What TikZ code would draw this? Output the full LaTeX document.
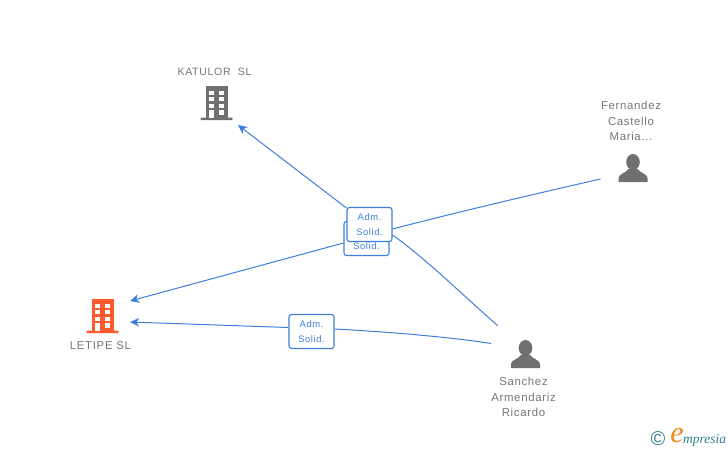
\documentclass[tikz,border=0pt]{standalone}
\usepackage{fontspec}
\setmainfont{Liberation Sans}
\newfontfamily\spaced[LetterSpace=6]{Liberation Sans}
\newfontfamily\logofont{Liberation Serif}
\usetikzlibrary{arrows.meta}
\definecolor{linkblue}{HTML}{3F7FDC}
\definecolor{labelgrey}{HTML}{777777}
\definecolor{icongrey}{HTML}{707070}
\definecolor{orangeicon}{HTML}{FF5A2E}
\definecolor{logoteal}{HTML}{2F7F8F}
\definecolor{logoorange}{HTML}{F08A1C}
\tikzset{
  x=1pt,y=-1pt,
  conn/.style={draw=linkblue,line width=1pt,-{Stealth[length=9pt,width=8.5pt,inset=2.5pt]}},
  plainconn/.style={draw=linkblue,line width=1pt},
  rolebox/.style={draw=linkblue,fill=white,line width=1.1pt,rounded corners=2.5pt,minimum width=45pt,minimum height=34pt,inner sep=0pt,align=center,text=linkblue,font=\spaced\fontsize{9.4}{15}\selectfont},
  caption/.style={text=labelgrey,align=center,inner sep=0pt,font=\spaced\fontsize{11.4}{15.4}\selectfont},
  pics/building/.style={code={
    \fill[#1] (-11,-34) rectangle (11,-2);
    \fill[#1,rounded corners=0.6pt] (-16,-2.5) rectangle (16,0);
    \foreach \yy in {-29.5,-23,-16.5}{
      \fill[white] (-7.5,\yy) rectangle (-2.5,\yy+4);
      \fill[white] (2.5,\yy) rectangle (7.5,\yy+4);
    }
    \fill[white] (-7.5,-10) rectangle (-2.5,-2);
    \fill[white] (2.5,-10) rectangle (7.5,-5.5);
  }},
  pics/person/.style={code={
    \fill[icongrey] (0,-20) ellipse (6.8 and 8);
    \fill[icongrey] (-14.5,0) -- (-14.5,-4) .. controls (-14.5,-8) and (-7,-9) .. (-4.5,-13) -- (4.5,-13) .. controls (7,-9) and (14.5,-8) .. (14.5,-4) -- (14.5,0) -- cycle;
  }}
}
\begin{document}
\begin{tikzpicture}
\useasboundingbox (0,0) rectangle (728,450);
\fill[white] (0,0) rectangle (728,450);

\pic at (216.5,120) {building=icongrey};
\pic at (102.5,333) {building=orangeicon};
\pic at (633,182) {person};
\pic at (525.5,368) {person};

\node[caption,font=\spaced\fontsize{10.6}{15}\selectfont] (katulor) at (214.5,72) {KATULOR\ \ SL};
\node[caption] (letipe) at (100.5,345.5) {LETIPE SL};
\node[caption] (fernandez) at (631,121) {Fernandez\\Castello\\Maria...};
\node[caption] (sanchez) at (523.5,397) {Sanchez\\Armendariz\\Ricardo};

\coordinate (katulorEnd) at (238,125);
\coordinate (letipeUpper) at (130,301);
\coordinate (letipeLower) at (130,322);
\coordinate (fernandezStart) at (600.5,179);
\coordinate (sanchezUpper) at (497.5,325.5);
\coordinate (sanchezLower) at (491,343.5);

\node[rolebox] (roleB) at (366.5,238.5) {Adm.\\Solid.};
\node[rolebox] (roleA) at (369.5,224.5) {Adm.\\Solid.};
\node[rolebox] (roleC) at (311.5,331.5) {Adm.\\Solid.};

\draw[plainconn] (fernandezStart) .. controls (530,195) and (450,214) .. (roleA.east |- 0,229);
\draw[conn] (roleB.west |- 0,243) -- (letipeUpper);
\draw[plainconn] (sanchezUpper) .. controls (465,297) and (425,258) .. (roleA.east |- 0,235);
\draw[conn] (roleA.north west |- 0,208) -- (katulorEnd);
\draw[plainconn] (sanchezLower) .. controls (450,337) and (390,332) .. (roleC.east |- 0,329);
\draw[conn] (roleC.west |- 0,327.5) -- (letipeLower);

\node[text=logoteal,inner sep=0pt,font=\fontsize{20}{20}\selectfont] (copyright) at (658,439) {\textcopyright};
\node[text=logoorange,inner sep=0pt,font=\logofont\itshape\fontsize{30}{30}\selectfont] (logoE) at (677,436) {e};
\node[text=logoteal,inner sep=0pt,anchor=base west,font=\logofont\itshape\fontsize{13.5}{13.5}\selectfont] (logoText) at (683,443) {mpresia};
\end{tikzpicture}
\end{document}
